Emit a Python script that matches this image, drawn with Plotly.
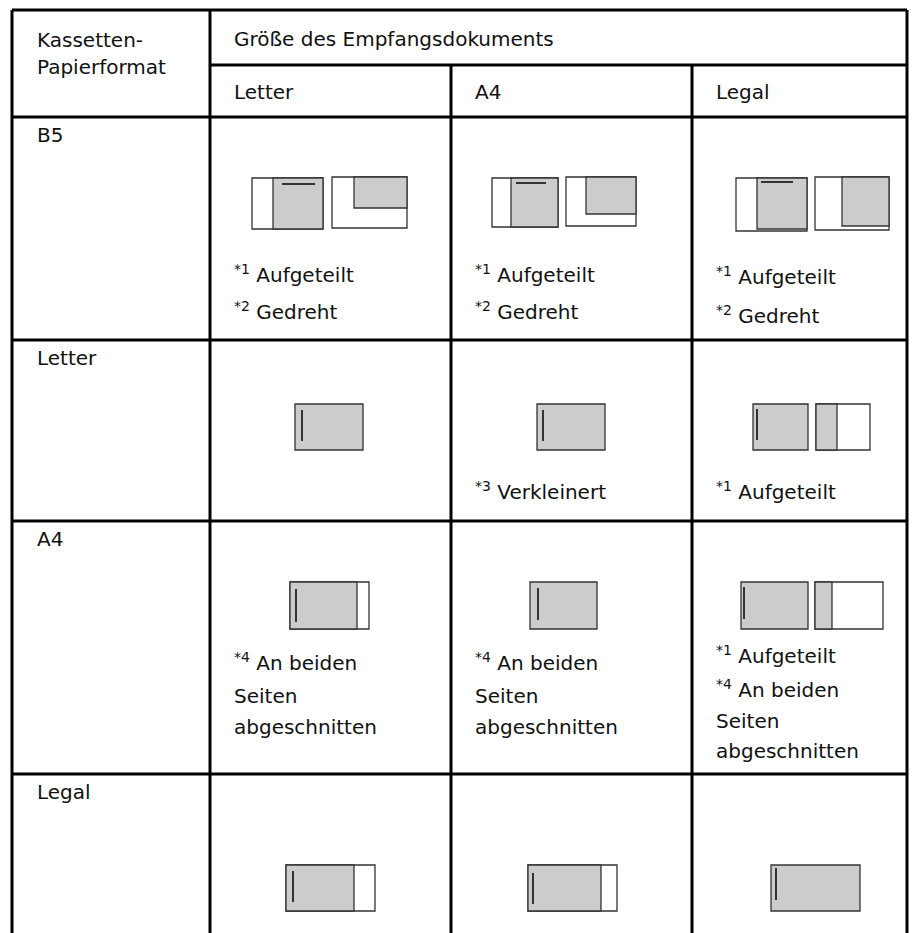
import plotly.graph_objects as go

# ---------------- data ----------------
row_labels = ["B5", "Letter", "A4", "Legal"]
col_labels = ["Letter", "A4", "Legal"]
corner_label = ["Kassetten-", "Papierformat"]
header_label = "Größe des Empfangsdokuments"

# notes per cell (row, col)
cell_notes = [
    [["<sup>*1</sup> Aufgeteilt", "<sup>*2</sup> Gedreht"],
     ["<sup>*1</sup> Aufgeteilt", "<sup>*2</sup> Gedreht"],
     ["<sup>*1</sup> Aufgeteilt", "<sup>*2</sup> Gedreht"]],
    [[], ["<sup>*3</sup> Verkleinert"], ["<sup>*1</sup> Aufgeteilt"]],
    [["<sup>*4</sup> An beiden", "Seiten", "abgeschnitten"],
     ["<sup>*4</sup> An beiden", "Seiten", "abgeschnitten"],
     ["<sup>*1</sup> Aufgeteilt", "<sup>*4</sup> An beiden", "Seiten", "abgeschnitten"]],
    [[], [], []],
]

# ---------------- layout (pixels) ----------------
W, H = 921, 933
col_x = [12, 210, 451, 692, 907]
row_y = [10, 65, 117, 340, 521, 774, 940]
GRID_W = 3
FONT = dict(family="DejaVu Sans", size=20, color="#111111")
GRAY = "#cccccc"
EDGE = "#333333"

# note line y positions per row (first line) and per-line spacing
note_first_y = [[274, 274, 276], [491, 491, 491], [662, 662, 655], [0, 0, 0]]
note_steps = [[37, 37, 39], [0, 0, 0], [[34, 31], [34, 31], [34, 32, 30]], [0, 0, 0]]

# icon diagrams: each rect = (x0, y0, x1, y1, fill); lines = (x0, y0, x1, y1)
icon_rects = [
    [[(252, 178, 323, 229, "white"), (273, 178, 323, 229, GRAY),
      (332, 177, 407, 228, "white"), (354, 177, 407, 208, GRAY)],
     [(492, 178, 558, 227, "white"), (511, 178, 558, 227, GRAY),
      (566, 177, 636, 226, "white"), (586, 177, 636, 214, GRAY)],
     [(736, 178, 807, 231, "white"), (757, 178, 807, 229, GRAY),
      (815, 177, 889, 230, "white"), (842, 177, 889, 226, GRAY)]],
    [[(295, 404, 363, 450, GRAY)],
     [(537, 404, 605, 450, GRAY)],
     [(753, 404, 808, 450, GRAY),
      (816, 404, 870, 450, "white"), (816, 404, 837, 450, GRAY)]],
    [[(290, 582, 369, 629, "white"), (290, 582, 357, 629, GRAY)],
     [(530, 582, 597, 629, GRAY)],
     [(741, 582, 808, 629, GRAY),
      (815, 582, 883, 629, "white"), (815, 582, 832, 629, GRAY)]],
    [[(286, 865, 375, 911, "white"), (286, 865, 354, 911, GRAY)],
     [(528, 865, 617, 911, "white"), (528, 865, 601, 911, GRAY)],
     [(771, 865, 860, 911, GRAY)]],
]
icon_lines = [
    [[(282, 184, 315, 184)], [(516, 183, 546, 183)], [(761, 182, 793, 182)]],
    [[(302, 410, 302, 441)], [(543, 410, 543, 441)], [(757, 409, 757, 440)]],
    [[(296, 589, 296, 622)], [(538, 588, 538, 620)], [(744, 587, 744, 619)]],
    [[(293, 871, 293, 902)], [(533, 873, 533, 904)], [(776, 868, 776, 900)]],
]

fig = go.Figure()
shapes = []
ann = []


def line(x0, y0, x1, y1, w=GRID_W, c="black"):
    shapes.append(dict(type="line", xref="x", yref="y", x0=x0, y0=y0, x1=x1, y1=y1,
                       line=dict(color=c, width=w), layer="above"))


def text(x, y, s):
    ann.append(dict(x=x, y=y, xref="x", yref="y", text=s, showarrow=False,
                    xanchor="left", yanchor="middle", font=FONT, align="left"))


# grid
line(col_x[0], row_y[0], col_x[-1], row_y[0])
line(col_x[1], row_y[1], col_x[-1], row_y[1])
for yy in row_y[2:-1]:
    line(col_x[0], yy, col_x[-1], yy)
line(col_x[0], row_y[0], col_x[0], row_y[-1])
line(col_x[1], row_y[0], col_x[1], row_y[-1])
for xx in col_x[2:-1]:
    line(xx, row_y[1], xx, row_y[-1])
line(col_x[-1], row_y[0], col_x[-1], row_y[-1])

# header texts
PAD = 23
text(col_x[0] + PAD, 40, corner_label[0])
text(col_x[0] + PAD, 67, corner_label[1])
text(col_x[1] + 22, 39, header_label)
for j, c in enumerate(col_labels):
    text(col_x[j + 1] + 22, 92, c)

# row labels
for i, r in enumerate(row_labels):
    text(col_x[0] + PAD, row_y[i + 2] + 18, r)

# icons and notes
for i in range(len(row_labels)):
    for j in range(len(col_labels)):
        for (x0, y0, x1, y1, f) in icon_rects[i][j]:
            shapes.append(dict(type="rect", xref="x", yref="y", x0=x0, y0=y0, x1=x1, y1=y1,
                               fillcolor=f, line=dict(color=EDGE, width=1.3), layer="above"))
        for (x0, y0, x1, y1) in icon_lines[i][j]:
            shapes.append(dict(type="line", xref="x", yref="y", x0=x0, y0=y0, x1=x1, y1=y1,
                               line=dict(color="#333333", width=2), layer="above"))
        notes = cell_notes[i][j]
        y = note_first_y[i][j]
        step = note_steps[i][j]
        for k, s in enumerate(notes):
            text(col_x[j + 1] + 22, y, s)
            if k < len(notes) - 1:
                y += step[k] if isinstance(step, list) else step

fig.update_layout(
    width=W, height=H, margin=dict(l=0, r=0, t=0, b=0),
    paper_bgcolor="white", plot_bgcolor="white",
    xaxis=dict(range=[0, W], visible=False, fixedrange=True),
    yaxis=dict(range=[H, 0], visible=False, fixedrange=True),
    shapes=shapes, annotations=ann, showlegend=False,
)
fig.write_html(
    "out.html",
    config={"displayModeBar": False},
    post_script="document.body.style.margin='0px';document.body.style.overflow='hidden';",
)
